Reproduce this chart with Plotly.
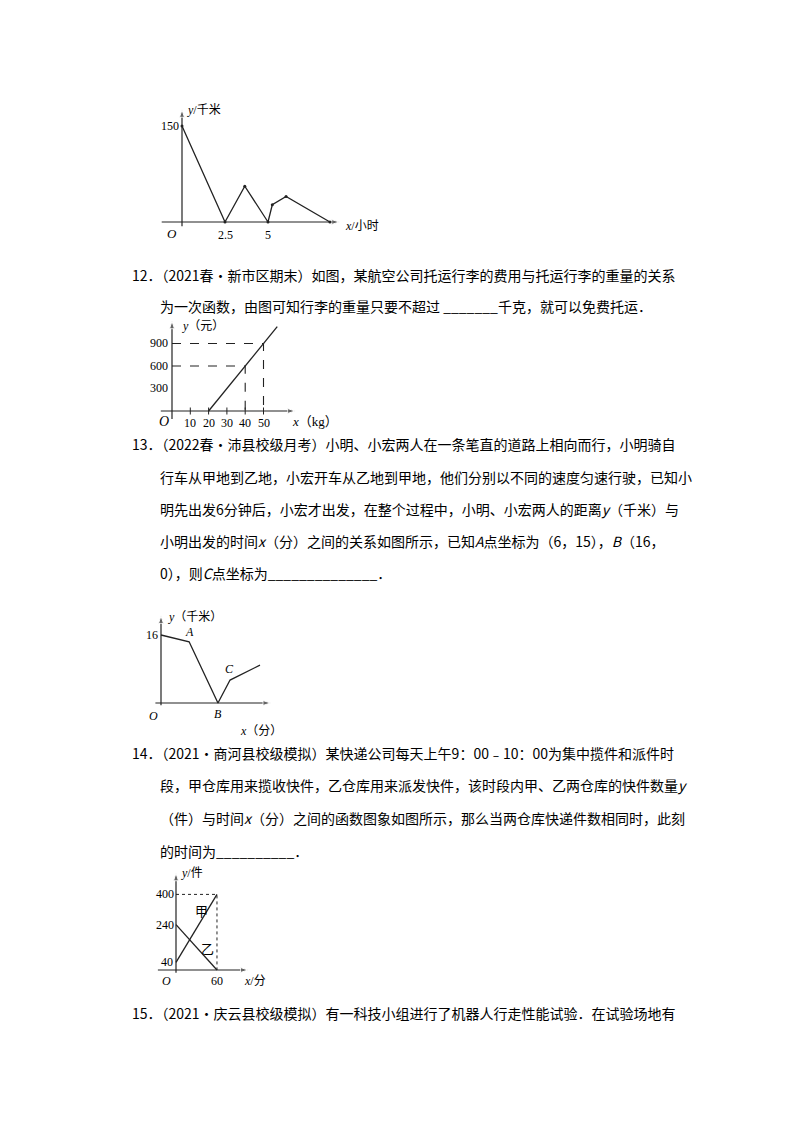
import plotly.graph_objects as go

W, H = 800, 1132
FONT = "Noto Sans CJK SC"

# chart 11: distance vs time
c1_x = [0, 2.5, 3.65, 5, 5.25, 6.05, 8.6]
c1_y = [150, 0, 56, 0, 27, 40, 0]
# chart 12: fee vs weight
c2_x = [20, 57.5]
c2_y = [0, 1125]
c2_xticks = [10, 20, 30, 40, 50]
c2_yticks = [300, 600, 900]
# chart 13: distance between two people
c3_x = [0, 7.9, 16, 19.4, 27.8]
c3_y = [16, 14.4, 0, 5.4, 8.9]
# chart 14: parcels in two warehouses
c4_jia_x = [0, 60]
c4_jia_y = [40, 400]
c4_yi_x = [0, 60]
c4_yi_y = [240, 0]

# (origin px, px per unit x, px per unit y, box x0,x1,y0(top),y1(bottom))
charts = [
    dict(o=(174, 214), sx=17.2, sy=0.64, box=(150, 335, 98, 222)),
    dict(o=(164, 403), sx=1.83, sy=0.075, box=(150, 290, 310, 414)),
    dict(o=(153, 695), sx=3.56, sy=4.25, box=(145, 265, 605, 700)),
    dict(o=(168, 962), sx=0.683, sy=0.189, box=(148, 242, 862, 968)),
]

fig = go.Figure()
layout = dict(width=W, height=H, margin=dict(l=0, r=0, t=0, b=0),
              paper_bgcolor="white", plot_bgcolor="rgba(0,0,0,0)",
              showlegend=False, font=dict(family=FONT, color="black"))
annotations = []


def P(px, py):
    return px / W, 1 - py / H


for i, c in enumerate(charts, start=1):
    ox, oy = c["o"]
    x0, x1, y0, y1 = c["box"]
    xr = [(x0 - ox) / c["sx"], (x1 - ox) / c["sx"]]
    yr = [(oy - y1) / c["sy"], (oy - y0) / c["sy"]]
    c["xr"], c["yr"] = xr, yr
    sfx = "" if i == 1 else str(i)
    layout["xaxis" + sfx] = dict(domain=[x0 / W, x1 / W], range=xr, visible=False,
                                 anchor="y" + sfx)
    layout["yaxis" + sfx] = dict(domain=[1 - y1 / H, 1 - y0 / H], range=yr, visible=False,
                                 anchor="x" + sfx)
    xa, ya = "x" + sfx, "y" + sfx
    c["xa"], c["ya"] = xa, ya
    # axis lines with arrow heads
    pad_x = (xr[1] - xr[0]) * 0.02
    pad_y = (yr[1] - yr[0]) * 0.03
    arrow = dict(symbol="arrow", angleref="previous", size=[0, 8], color="#222")
    fig.add_trace(go.Scatter(x=[xr[0] + pad_x, xr[1] - pad_x], y=[0, 0], mode="lines+markers",
                             line=dict(color="#222", width=1.2), marker=arrow,
                             xaxis=xa, yaxis=ya, cliponaxis=False))
    fig.add_trace(go.Scatter(x=[0, 0], y=[yr[0] + pad_y, yr[1] - pad_y], mode="lines+markers",
                             line=dict(color="#222", width=1.2), marker=arrow,
                             xaxis=xa, yaxis=ya, cliponaxis=False))

line = dict(color="#222", width=1.3)
dash = dict(color="#222", width=1.1, dash="dash")

fig.add_trace(go.Scatter(x=c1_x, y=c1_y, mode="lines+markers", line=line,
                         marker=dict(size=3, color="#222"), xaxis="x", yaxis="y"))
fig.add_trace(go.Scatter(x=c2_x, y=c2_y, mode="lines", line=line, xaxis="x2", yaxis="y2"))
fig.add_trace(go.Scatter(x=[0, 40, 40], y=[600, 600, 0], mode="lines", line=dash, xaxis="x2", yaxis="y2"))
fig.add_trace(go.Scatter(x=[0, 50, 50], y=[900, 900, 0], mode="lines", line=dash, xaxis="x2", yaxis="y2"))
fig.add_trace(go.Scatter(x=c2_xticks, y=[0] * 5, mode="markers",
                         marker=dict(symbol="line-ns", size=5, line=dict(width=1, color="#222")),
                         xaxis="x2", yaxis="y2"))
fig.add_trace(go.Scatter(x=c3_x, y=c3_y, mode="lines", line=line, xaxis="x3", yaxis="y3"))
fig.add_trace(go.Scatter(x=c4_jia_x, y=c4_jia_y, mode="lines", line=line, xaxis="x4", yaxis="y4"))
fig.add_trace(go.Scatter(x=c4_yi_x, y=c4_yi_y, mode="lines", line=line, xaxis="x4", yaxis="y4"))
fig.add_trace(go.Scatter(x=[0, 60, 60], y=[400, 400, 0], mode="lines",
                         line=dict(color="#222", width=1, dash="dot"), xaxis="x4", yaxis="y4"))


def lab(text, xv, yv, c, xs=0, ys=0, size=12, xanchor="center"):
    annotations.append(dict(text=text, x=xv, y=yv, xref=c["xa"], yref=c["ya"], showarrow=False,
                            xshift=xs, yshift=ys, xanchor=xanchor,
                            font=dict(size=size, family="Liberation Serif, " + FONT)))


c1, c2, c3, c4 = charts
lab("150", 0, 150, c1, xs=-12)
lab("<i>O</i>", 0, 0, c1, xs=-10, ys=-12, size=13)
lab("2.5", 2.5, 0, c1, ys=-13)
lab("5", 5, 0, c1, ys=-13)
lab("<i>y</i>/千米", 0, c1["yr"][1], c1, xs=3, ys=-4, xanchor="left")
lab("<i>x</i>/小时", c1["xr"][1], 0, c1, xs=0, ys=-4, xanchor="left")

for v in c2_xticks:
    lab(str(v), v, 0, c2, ys=-12)
for v in c2_yticks:
    lab(str(v), 0, v, c2, xs=-13)
lab("<i>O</i>", 0, 0, c2, xs=-8, ys=-11, size=14)
lab("<i>y</i>（元）", 0, c2["yr"][1], c2, xs=8, ys=-8, xanchor="left")
lab("<i>x</i>（kg）", c2["xr"][1], 0, c2, xs=-8, ys=-11, xanchor="left", size=13)

lab("16", 0, 16, c3, xs=-9)
lab("<i>A</i>", 7.9, 14.4, c3, ys=10)
lab("<i>B</i>", 16, 0, c3, ys=-11)
lab("<i>C</i>", 19.4, 5.4, c3, xs=-1, ys=11)
lab("<i>O</i>", 0, 0, c3, xs=-8, ys=-13)
lab("<i>y</i>（千米）", 0, c3["yr"][1], c3, xs=5, ys=-4, xanchor="left")
lab("<i>x</i>（分）", 28, 0, c3, ys=-28)

lab("400", 0, 400, c4, xs=-11)
lab("240", 0, 240, c4, xs=-11)
lab("40", 0, 40, c4, xs=-9)
lab("60", 60, 0, c4, ys=-11)
lab("<i>O</i>", 0, 0, c4, xs=-10, ys=-11)
lab("甲", 38, 310, c4, size=13)
lab("乙", 46, 110, c4, size=13)
lab("<i>y</i>/件", 0, c4["yr"][1], c4, xs=3, ys=-3, xanchor="left")
lab("<i>x</i>/分", c4["xr"][1], 0, c4, xs=-8, ys=-11, xanchor="left")

body = [
    (122, 267, "12．（2021春•新市区期末）如图，某航空公司托运行李的费用与托运行李的重量的关系"),
    (150, 298, "为一次函数，由图可知行李的重量只要不超过 _______千克，就可以免费托运．"),
    (122, 436, "13．（2022春•沛县校级月考）小明、小宏两人在一条笔直的道路上相向而行，小明骑自"),
    (150, 469, "行车从甲地到乙地，小宏开车从乙地到甲地，他们分别以不同的速度匀速行驶，已知小"),
    (150, 501, "明先出发6分钟后，小宏才出发，在整个过程中，小明、小宏两人的距离<i>y</i>（千米）与"),
    (150, 533, "小明出发的时间<i>x</i>（分）之间的关系如图所示，已知<i>A</i>点坐标为（6，15），<i>B</i>（16，"),
    (150, 565, "0），则<i>C</i>点坐标为______________．"),
    (122, 745, "14．（2021•商河县校级模拟）某快递公司每天上午9：00﹣10：00为集中揽件和派件时"),
    (150, 777, "段，甲仓库用来揽收快件，乙仓库用来派发快件，该时段内甲、乙两仓库的快件数量<i>y</i>"),
    (150, 810, "（件）与时间<i>x</i>（分）之间的函数图象如图所示，那么当两仓库快递件数相同时，此刻"),
    (150, 843, "的时间为__________．"),
    (122, 1005, "15．（2021•庆云县校级模拟）有一科技小组进行了机器人行走性能试验．在试验场地有"),
]
for px, py, t in body:
    x, y = P(px, py)
    annotations.append(dict(text=t, x=x, y=y, xref="paper", yref="paper", showarrow=False,
                            xanchor="left", yanchor="middle", font=dict(size=14, family=FONT)))

layout["annotations"] = annotations
fig.update_layout(**layout)
fig.write_html("out.html")
